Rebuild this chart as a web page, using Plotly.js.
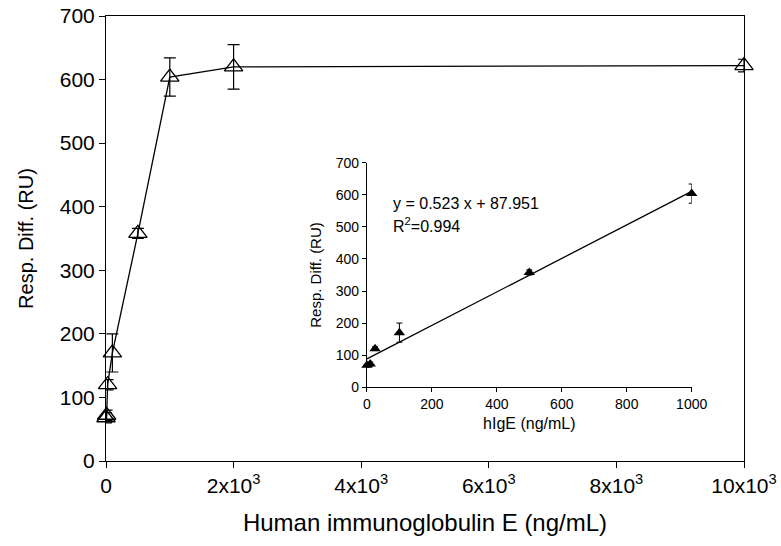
<!DOCTYPE html>
<html><head><meta charset="utf-8">
<script src="https://cdn.plot.ly/plotly-3.0.1.min.js"></script>
<style>html,body{margin:0;padding:0;background:#fff}</style>
</head><body><div id="chart" style="width:781px;height:546px"></div>
<script>
const concMain = [0, 10, 25, 100, 500, 1000, 2000, 10000];
const respMain = [68, 72, 120, 170, 358, 604, 620, 622];
const errMain = [8, 8, 8, 30, 8, 30, 35, 10];
const concInset = [0, 10, 25, 100, 500, 1000];
const respInset = [68, 72, 120, 170, 358, 604];
const errInset = [6, 6, 6, 30, 8, 30];
const fitSlope = 0.523, fitIntercept = 87.951;
const fitX = [0, 1000];
const fitY = fitX.map(x => fitSlope * x + fitIntercept);
const mainTickVals = [0, 2000, 4000, 6000, 8000, 10000];
const mainTickText = ['0', '2x10<sup>3</sup>', '4x10<sup>3</sup>', '6x10<sup>3</sup>', '8x10<sup>3</sup>', '10x10<sup>3</sup>'];

const F = 'Liberation Sans, Arial, sans-serif';
const traces = [
  {x: concMain, y: respMain, type: 'scatter', mode: 'lines+markers',
   line: {color: '#000', width: 1.3},
   marker: {symbol: 'triangle-up-open', size: 16, color: '#000', line: {width: 1.3, color: '#000'}},
   error_y: {type: 'data', array: errMain, visible: true, color: '#000', thickness: 1.2, width: 6},
   cliponaxis: false, xaxis: 'x', yaxis: 'y', showlegend: false},
  {x: fitX, y: fitY, type: 'scatter', mode: 'lines', line: {color: '#000', width: 1.3},
   xaxis: 'x2', yaxis: 'y2', showlegend: false},
  {x: concInset, y: respInset, type: 'scatter', mode: 'markers',
   marker: {symbol: 'triangle-up', size: 10, color: '#000'},
   error_y: {type: 'data', array: errInset, visible: true, color: '#000', thickness: 1, width: 3},
   cliponaxis: false, xaxis: 'x2', yaxis: 'y2', showlegend: false}
];
const layout = {
  width: 781, height: 546,
  margin: {l: 106, r: 37, t: 16, b: 85},
  paper_bgcolor: '#fff', plot_bgcolor: '#fff',
  font: {family: F, color: '#000'},
  xaxis: {range: [0, 10000], tickvals: mainTickVals, ticktext: mainTickText,
    showgrid: false, zeroline: false, showline: true, mirror: true, linecolor: '#000', linewidth: 1,
    ticks: 'outside', ticklen: 6, tickcolor: '#000', tickfont: {size: 21, family: F},
    title: {text: 'Human immunoglobulin E (ng/mL)', font: {size: 24, family: F}, standoff: 17}},
  yaxis: {range: [0, 700], dtick: 100, showgrid: false, zeroline: false, showline: true, mirror: true,
    linecolor: '#000', linewidth: 1, ticks: 'outside', ticklen: 6, tickcolor: '#000',
    tickfont: {size: 21, family: F},
    title: {text: 'Resp. Diff. (RU)', font: {size: 20, family: F}, standoff: 20}},
  xaxis2: {domain: [0.409, 0.918], anchor: 'y2', range: [0, 1000], dtick: 200,
    showgrid: false, zeroline: false, showline: true, linecolor: '#000', linewidth: 1,
    ticks: 'outside', ticklen: 4, tickcolor: '#000', tickfont: {size: 14, family: F},
    title: {text: 'hIgE (ng/mL)', font: {size: 16, family: F}, standoff: 6}},
  yaxis2: {domain: [0.166, 0.670], anchor: 'x2', range: [0, 700], dtick: 100,
    showgrid: false, zeroline: false, showline: true, linecolor: '#000', linewidth: 1,
    ticks: 'outside', ticklen: 4, tickcolor: '#000', tickfont: {size: 14, family: F},
    title: {text: 'Resp. Diff. (RU)', font: {size: 15, family: F}, standoff: 10}},
  annotations: [
    {xref: 'x2', yref: 'y2', x: 75, y: 574, xanchor: 'left', yanchor: 'middle', showarrow: false,
     text: 'y = 0.523 x + 87.951', font: {size: 16, family: F}},
    {xref: 'x2', yref: 'y2', x: 75, y: 505, xanchor: 'left', yanchor: 'middle', showarrow: false,
     text: 'R<sup>2</sup>=0.994', font: {size: 16, family: F}}
  ]
};
Plotly.newPlot('chart', traces, layout, {displayModeBar: false, staticPlot: true});
</script></body></html>
